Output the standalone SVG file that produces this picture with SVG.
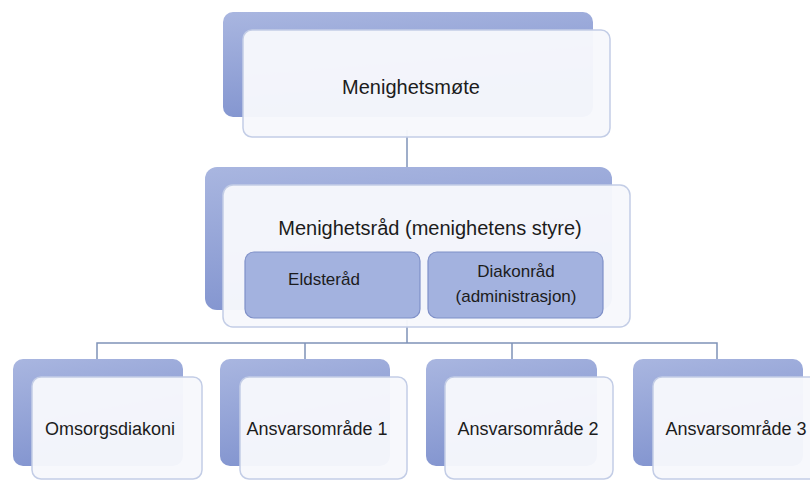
<svg xmlns="http://www.w3.org/2000/svg" width="810" height="481" viewBox="0 0 810 481">
<defs>
<linearGradient id="bg" x1="0" y1="0" x2="0.3" y2="1">
<stop offset="0" stop-color="#a9b6e0"/>
<stop offset="1" stop-color="#8294cf"/>
</linearGradient>
</defs>
<style>
.back{fill:url(#bg);}
.front{fill:#f7f8fc;fill-opacity:0.96;stroke:#c3cde6;stroke-width:1.5;}
.inner{fill:#a3b2df;stroke:#7f90c8;stroke-width:1.2;}
.lbl{font-family:"Liberation Sans",Arial,sans-serif;fill:#1c1c1c;text-anchor:middle;}
.conn{stroke:#7f93b8;stroke-width:1.5;fill:none;}
</style>
<rect width="810" height="481" fill="#ffffff"/>
<g id="connectors">
<line class="conn" x1="407" y1="130" x2="407" y2="170"/>
<path class="conn" d="M407 320 V343 M97 359 V343 H717 V359 M305 343 V359 M512 343 V359"/>
</g>
<g id="menighetsmote">
<rect class="back" x="223" y="12" width="370" height="105" rx="10"/>
<rect class="front" x="243" y="30" width="367" height="107" rx="9"/>
<text class="lbl" x="411" y="94" font-size="20">Menighetsmøte</text>
</g>
<g id="menighetsrad">
<rect class="back" x="205" y="167" width="407" height="143" rx="12"/>
<rect class="front" x="223" y="185" width="407" height="142" rx="10"/>
<text class="lbl" x="430" y="235" font-size="20">Menighetsråd (menighetens styre)</text>
</g>
<g id="eldsterad">
<rect class="inner" x="245" y="252" width="175" height="66" rx="9"/>
<text class="lbl" x="324" y="285" font-size="17">Eldsteråd</text>
</g>
<g id="diakonrad">
<rect class="inner" x="428" y="252" width="175" height="66" rx="9"/>
<text class="lbl" x="516" y="277" font-size="17">Diakonråd</text>
<text class="lbl" x="516" y="302" font-size="17">(administrasjon)</text>
</g>
<g id="omsorgsdiakoni">
<rect class="back" x="13" y="359" width="170" height="107" rx="10"/>
<rect class="front" x="32" y="377" width="170" height="102" rx="9"/>
<text class="lbl" x="110" y="435" font-size="18">Omsorgsdiakoni</text>
</g>
<g id="ansvar1">
<rect class="back" x="220" y="359" width="170" height="107" rx="10"/>
<rect class="front" x="240" y="377" width="167" height="102" rx="9"/>
<text class="lbl" x="317" y="435" font-size="18">Ansvarsområde 1</text>
</g>
<g id="ansvar2">
<rect class="back" x="426" y="359" width="171" height="107" rx="10"/>
<rect class="front" x="445" y="377" width="168" height="102" rx="9"/>
<text class="lbl" x="528" y="435" font-size="18">Ansvarsområde 2</text>
</g>
<g id="ansvar3">
<rect class="back" x="633" y="359" width="170" height="107" rx="10"/>
<rect class="front" x="653" y="377" width="170" height="102" rx="9"/>
<text class="lbl" x="736" y="435" font-size="18">Ansvarsområde 3</text>
</g>
</svg>
